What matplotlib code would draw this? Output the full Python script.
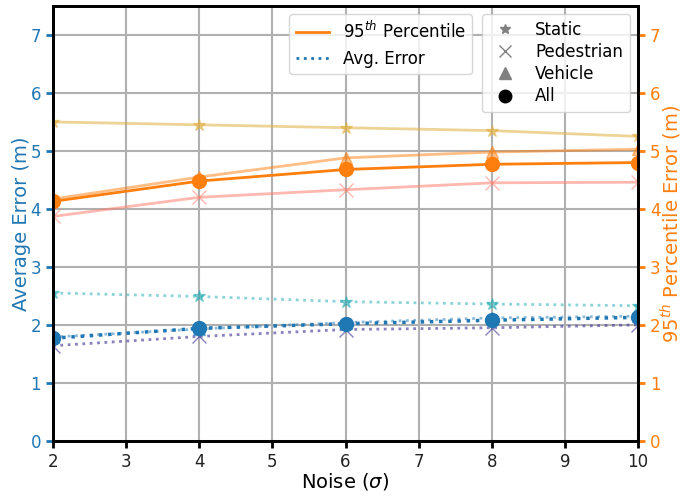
import numpy as np
import matplotlib.pyplot as plt
from matplotlib.lines import Line2D

noise = [2, 4, 6, 8, 10]

# 95th percentile error (m)
p95_static = [5.50, 5.45, 5.40, 5.35, 5.25]
p95_pedestrian = [3.87, 4.20, 4.33, 4.45, 4.46]
p95_vehicle = [4.17, 4.55, 4.88, 4.98, 5.03]
p95_all = [4.13, 4.48, 4.68, 4.77, 4.80]

# average error (m)
avg_static = [2.55, 2.49, 2.40, 2.36, 2.33]
avg_pedestrian = [1.64, 1.80, 1.92, 1.95, 2.00]
avg_vehicle = [1.79, 1.93, 2.04, 2.12, 2.15]
avg_all = [1.77, 1.94, 2.02, 2.08, 2.13]

fig = plt.figure(figsize=(6.84, 4.97), dpi=100)
ax = fig.add_axes([0.0775, 0.113, 0.8555, 0.875])
ax2 = ax.twinx()

# avg error, dotted
ax.plot(noise, avg_static, ':', color='#17a8b0', alpha=0.5, marker='*', ms=9, lw=2)
ax.plot(noise, avg_pedestrian, ':', color='#4a3f9e', alpha=0.65, marker='x', ms=10, lw=2)
ax.plot(noise, avg_vehicle, ':', color='#1f77b4', alpha=0.5, marker='^', ms=9, lw=2)
ax.plot(noise, avg_all, ':', color='#1f77b4', marker='o', ms=10, lw=2.5)

# 95th percentile, solid
ax2.plot(noise, p95_static, '-', color='#e0b040', alpha=0.55, marker='*', ms=9, lw=2)
ax2.plot(noise, p95_pedestrian, '-', color='#ff7f6e', alpha=0.55, marker='x', ms=10, lw=2)
ax2.plot(noise, p95_vehicle, '-', color='#ff7f0e', alpha=0.5, marker='^', ms=9, lw=2)
ax2.plot(noise, p95_all, '-', color='#ff7f0e', marker='o', ms=10, lw=2)

for a in (ax, ax2):
    a.set_ylim(0, 7.5)
    a.set_yticks(range(8))
    for s in a.spines.values():
        s.set_linewidth(2)
        s.set_color('black')
ax.set_xlim(2, 10)
ax.set_xticks(range(2, 11))
ax.grid(True, color='#b0b0b0', lw=1.5)
ax.set_axisbelow(True)

ax.tick_params(labelsize=12, width=2, length=5)
ax.tick_params(axis='y', colors='#1f77b4')
ax.tick_params(axis='x', colors='black')
ax2.tick_params(axis='y', labelsize=12, colors='#ff7f0e', width=2, length=5)
for t in ax.get_xticklabels():
    t.set_color('#222222')

ax.set_xlabel(r'Noise ($\sigma$)', fontsize=14, labelpad=0)
ax.set_ylabel('Average Error (m)', fontsize=14, color='#1f77b4', labelpad=0)
ax2.set_ylabel(r'95$^{th}$ Percentile Error (m)', fontsize=14, color='#ff7f0e', labelpad=-1)

style_handles = [
    Line2D([], [], color='#ff7f0e', lw=2),
    Line2D([], [], color='#1f77b4', lw=2, ls=':'),
]
leg1 = ax2.legend(style_handles, [r'95$^{th}$ Percentile', 'Avg. Error'],
                  loc='upper right', bbox_to_anchor=(0.731, 1.0), fontsize=12,
                  framealpha=0.8, edgecolor='#cccccc', labelspacing=0.45)
ax2.add_artist(leg1)
marker_handles = [
    Line2D([], [], color='gray', marker='*', ls='', ms=7),
    Line2D([], [], color='gray', marker='x', ls='', ms=9),
    Line2D([], [], color='gray', marker='^', ls='', ms=9),
    Line2D([], [], color='black', marker='o', ls='', ms=9),
]
ax2.legend(marker_handles, ['Static', 'Pedestrian', 'Vehicle', 'All'],
           loc='upper right', bbox_to_anchor=(1.0, 1.0), fontsize=12,
           framealpha=0.8, edgecolor='#cccccc', labelspacing=0.25)

fig.savefig('out.png', dpi=100)
